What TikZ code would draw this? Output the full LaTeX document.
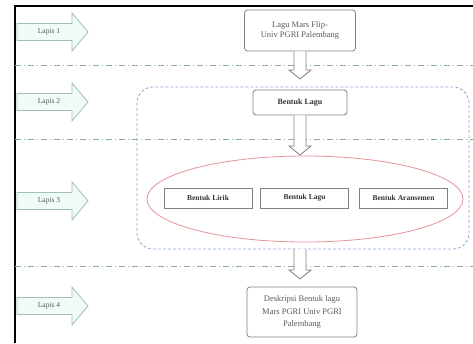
\documentclass[tikz,border=0pt]{standalone}
\usepackage{fontspec}
\setmainfont{Liberation Serif}
\usetikzlibrary{calc}
\definecolor{lgreen}{rgb}{0.62,0.76,0.68}
\definecolor{lfill}{rgb}{0.94,0.98,0.97}
\definecolor{dline}{rgb}{0.55,0.68,0.62}
\definecolor{cblue}{rgb}{0.55,0.66,0.82}
\definecolor{ered}{rgb}{0.90,0.58,0.60}
\definecolor{bgray}{rgb}{0.50,0.50,0.50}
\definecolor{tgray}{rgb}{0.35,0.35,0.35}
\tikzset{
  larr/.style={draw=lgreen, fill=lfill, line width=0.8pt},
  ltext/.style={font=\fontsize{7.5}{8}\selectfont, text=tgray},
  sepline/.style={draw=dline, line width=0.8pt, dash pattern=on 6pt off 3pt on 1pt off 3pt},
  rbox/.style={draw=bgray, rounded corners=3pt, line width=0.8pt, align=center, text=tgray, inner sep=0pt},
  sbox/.style={draw=bgray, line width=0.8pt, align=center, inner sep=0pt, font=\fontsize{7.5}{8}\selectfont\bfseries, text=black!80, minimum width=88pt, minimum height=20pt},
  blk/.style={draw=bgray, fill=white, line width=0.8pt},
}
\begin{document}
\begin{tikzpicture}[x=1pt,y=-1pt]
\useasboundingbox (0,0) rectangle (473,343);
\fill[white] (0,0) rectangle (473,343);
% frame
\draw[line width=1.2pt] (15,343) -- (15,6) -- (473,6);
% separator lines
\draw[sepline] (15,65) -- (473,65);
\draw[sepline] (15,139) -- (473,139);
\draw[sepline] (15,266) -- (473,266);
% lapis arrows
\foreach \y/\t/\n in {32/Lapis 1/l1, 102/Lapis 2/l2, 201/Lapis 3/l3, 306/Lapis 4/l4}{
  \draw[larr] (17,\y-8.5) -- (72,\y-8.5) -- (72,\y-19) -- (88,\y) -- (72,\y+19) -- (72,\y+8.5) -- (17,\y+8.5) -- cycle;
  \node[ltext] (\n) at (49,\y) {\t};
}
% container
\draw[cblue, line width=0.8pt, dash pattern=on 3pt off 2pt, rounded corners=16pt] (137,87) rectangle (469,249);
% ellipse
\draw[ered, line width=0.8pt] (305,199) ellipse [x radius=158, y radius=43];
% boxes
\node[rbox, minimum width=111pt, minimum height=41pt, font=\fontsize{8.5}{10.5}\selectfont] (mars) at (300,30.5) {Lagu Mars Flip-\\Univ PGRI Palembang};
\node[rbox, minimum width=94pt, minimum height=25pt, font=\fontsize{8}{9}\selectfont\bfseries, text=black!80] (bl) at (300,102.5) {Bentuk Lagu};
\node[sbox] (lirik) at (208,198) {Bentuk Lirik};
\node[sbox] (lagu) at (304.5,198) {Bentuk Lagu};
\node[sbox] (aran) at (403.5,198) {Bentuk Aransemen};
\node[rbox, minimum width=110pt, minimum height=50pt, font=\fontsize{8.5}{12.5}\selectfont] (desk) at (302,312) {Deskripsi Bentuk lagu\\Mars PGRI Univ PGRI\\Palembang};
% block arrows
\coordinate (t1) at (300,79);
\coordinate (t2) at (300,155);
\coordinate (t3) at (300,279);
\coordinate (s3) at (300,249);
\draw[blk] ($(mars.south)+(-6,0)$) -- ($(t1)+(-6,-9)$) -- ($(t1)+(-11,-9)$) -- (t1) -- ($(t1)+(11,-9)$) -- ($(t1)+(6,-9)$) -- ($(mars.south)+(6,0)$);
\draw[blk] ($(bl.south)+(-6,0)$) -- ($(t2)+(-6,-9)$) -- ($(t2)+(-11,-9)$) -- (t2) -- ($(t2)+(11,-9)$) -- ($(t2)+(6,-9)$) -- ($(bl.south)+(6,0)$);
\draw[blk] ($(s3)+(-6,0)$) -- ($(t3)+(-6,-9)$) -- ($(t3)+(-11,-9)$) -- (t3) -- ($(t3)+(11,-9)$) -- ($(t3)+(6,-9)$) -- ($(s3)+(6,0)$);
\end{tikzpicture}
\end{document}
